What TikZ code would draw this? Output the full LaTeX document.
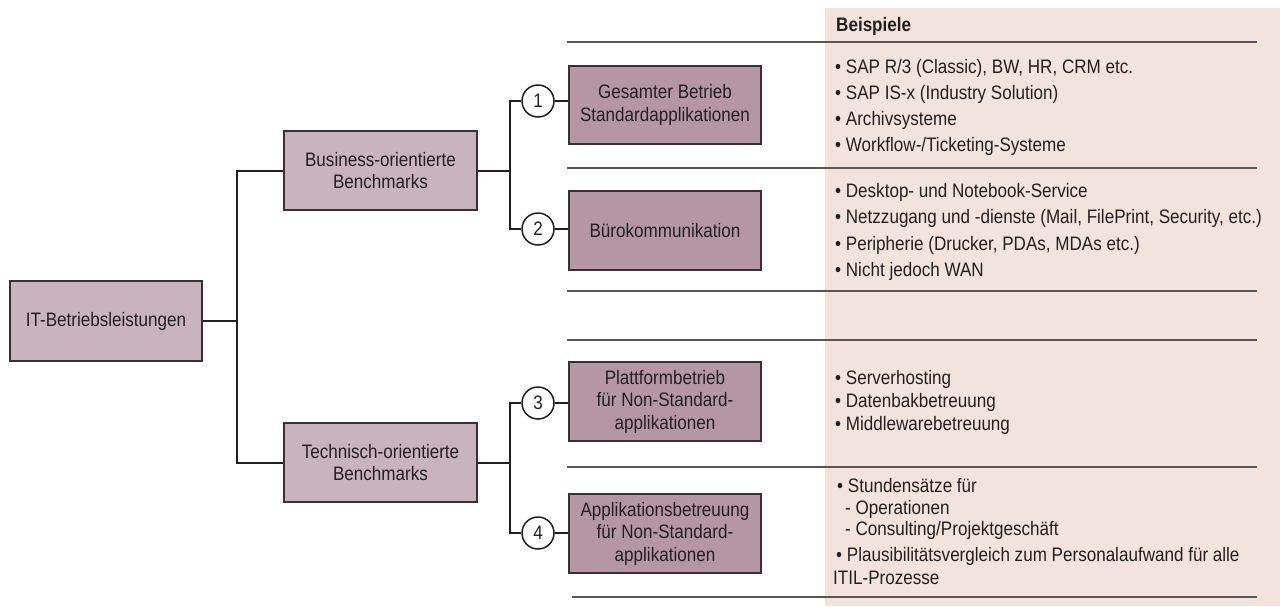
\documentclass[tikz,border=0pt]{standalone}
\usepackage{fontspec}
\setmainfont{Liberation Sans}[FakeStretch=0.875]
\definecolor{txt}{HTML}{231F20}
\definecolor{boxline}{HTML}{3A3034}
\definecolor{lightmauve}{HTML}{C9B4BD}
\definecolor{darkmauve}{HTML}{B597A3}
\definecolor{beige}{HTML}{F2E4DC}
\definecolor{rule}{HTML}{5A5657}
\begin{document}
\begin{tikzpicture}[x=1pt,y=-1pt,
  lvl/.style={draw=boxline, line width=1.2pt, fill=lightmauve, minimum width=193pt, minimum height=79pt, align=center, inner sep=0pt, text=txt, font=\fontsize{19.5}{22.5}\selectfont},
  sub/.style={lvl, fill=darkmauve, minimum width=192pt},
  num/.style={circle, draw=txt, line width=1.5pt, fill=white, minimum size=32pt, inner sep=0pt, text=txt, font=\fontsize{19.5}{20}\selectfont},
  conn/.style={draw=txt, line width=2pt},
  sep/.style={draw=rule, line width=1.5pt},
  item/.style={anchor=base west, inner sep=0pt, text=txt, font=\fontsize{19.5}{23}\selectfont}]
\useasboundingbox (0,0) rectangle (1280,606);
\fill[beige] (825,8) rectangle (1280,606);

% separators
\draw[sep] (567,42) -- (1257,42);
\draw[sep] (567,168) -- (1257,168);
\draw[sep] (567,291) -- (1257,291);
\draw[sep] (567,340) -- (1257,340);
\draw[sep] (567,467) -- (1257,467);
\draw[sep] (572,597) -- (1257,597);

% boxes
\node[lvl, minimum width=192pt, minimum height=80pt] (it) at (106,321) {IT-Betriebsleistungen};
\node[lvl] (biz) at (380.5,170.5) {Business-orientierte\\Benchmarks};
\node[lvl] (tech) at (380.5,462.5) {Technisch-orientierte\\Benchmarks};
\node[sub, minimum height=78pt] (b1) at (665,105) {Gesamter Betrieb\\Standardapplikationen};
\node[sub] (b2) at (665,230.5) {Bürokommunikation};
\node[sub] (b3) at (665,401.5) {Plattformbetrieb\\für Non-Standard-\\applikationen};
\node[sub] (b4) at (665,533.5) {Applikationsbetreuung\\für Non-Standard-\\applikationen};

\node[num] (c1) at (538,101) {1};
\node[num] (c2) at (538,229) {2};
\node[num] (c3) at (538,403) {3};
\node[num] (c4) at (538,533) {4};

\coordinate (j1) at (237,321);
\coordinate (j2) at (510,170.5);
\coordinate (j3) at (510,462.5);

% connectors
\draw[conn] (it.east) -- (j1);
\draw[conn] (biz.west) -- (biz.west -| j1) -- (tech.west -| j1) -- (tech.west);
\draw[conn] (biz.east) -- (j2);
\draw[conn] (c1.west) -- (c1.west -| j2) -- (c2.west -| j2) -- (c2.west);
\draw[conn] (tech.east) -- (j3);
\draw[conn] (c3.west) -- (c3.west -| j3) -- (c4.west -| j3) -- (c4.west);
\draw[conn] (c1.east) -- (c1.east -| b1.west);
\draw[conn] (c2.east) -- (c2.east -| b2.west);
\draw[conn] (c3.east) -- (c3.east -| b3.west);
\draw[conn] (c4.east) -- (c4.east -| b4.west);

% examples
\node[item, font=\fontsize{19.5}{23}\selectfont\bfseries] (head) at (836,31) {Beispiele};

\node[item] (e1a) at (835,73) {• SAP R/3 (Classic), BW, HR, CRM etc.};
\node[item] (e1b) at (835,99) {• SAP IS-x (Industry Solution)};
\node[item] (e1c) at (835,125) {• Archivsysteme};
\node[item] (e1d) at (835,151) {• Workflow-/Ticketing-Systeme};

\node[item] (e2a) at (835,197) {• Desktop- und Notebook-Service};
\node[item] (e2b) at (835,223) {• Netzzugang und -dienste (Mail, FilePrint, Security, etc.)};
\node[item] (e2c) at (835,250) {• Peripherie (Drucker, PDAs, MDAs etc.)};
\node[item] (e2d) at (835,276) {• Nicht jedoch WAN};

\node[item] (e3a) at (835,384) {• Serverhosting};
\node[item] (e3b) at (835,407) {• Datenbakbetreuung};
\node[item] (e3c) at (835,430) {• Middlewarebetreuung};

\node[item] (e4a) at (837,492) {• Stundensätze für};
\node[item] (e4b) at (845,514) {- Operationen};
\node[item] (e4c) at (845,535) {- Consulting/Projektgeschäft};
\node[item] (e4d) at (836,561) {• Plausibilitätsvergleich zum Personalaufwand für alle};
\node[item] (e4e) at (833,584) {ITIL-Prozesse};
\end{tikzpicture}
\end{document}
